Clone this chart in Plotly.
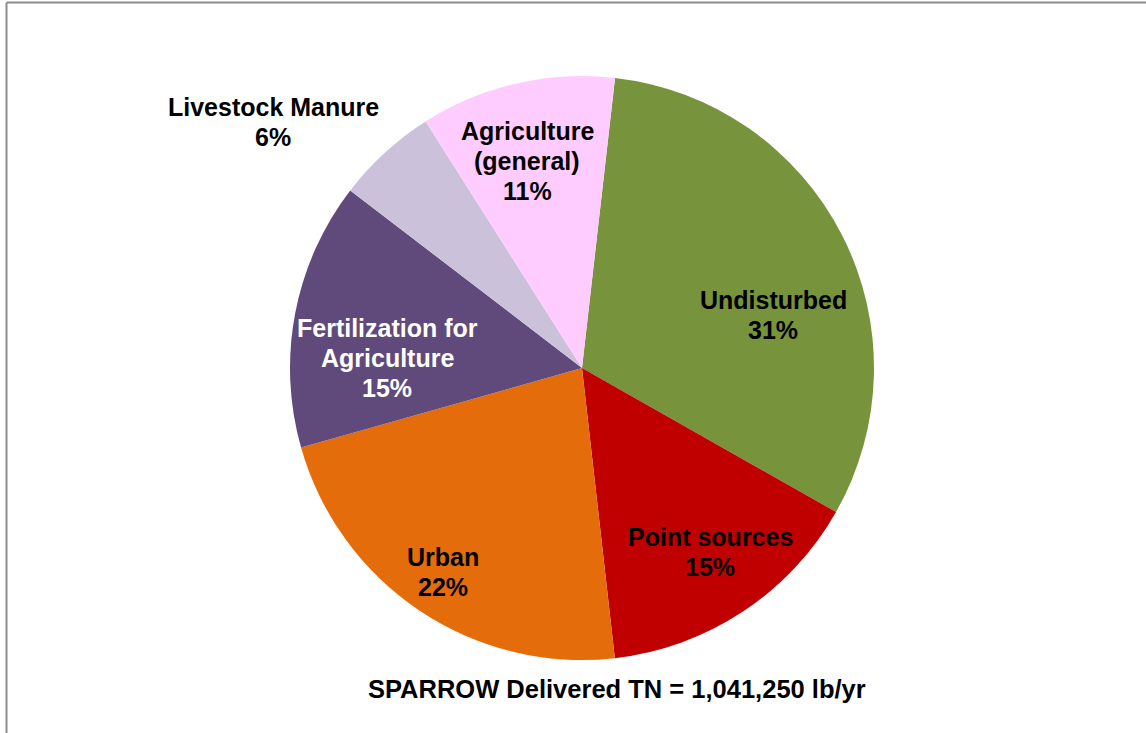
import plotly.graph_objects as go

# Delivered total nitrogen by source (percent of total)
sources = ["Undisturbed", "Point sources", "Urban",
           "Fertilization for|Agriculture", "Livestock Manure",
           "Agriculture|(general)"]
shares = [31.4, 15.0, 22.4, 14.8, 5.6, 10.8]
colors = ["#77933C", "#C00000", "#E46C0A", "#604A7B", "#CCC1DA", "#FFCCFF"]
label_colors = ["black", "black", "black", "white", "black", "black"]
total_label = "SPARROW Delivered TN = 1,041,250 lb/yr"

# Label centres in pixels (x, y from top) for each slice
label_px = [(773, 315), (710, 552), (443, 572), (387, 358), (273, 122), (527, 161)]

W, H = 1146, 733
cx, cy, r = 582, 368, 292
line_gap = 30

fig = go.Figure(go.Pie(
    labels=[s.replace("|", " ") for s in sources],
    values=shares,
    sort=False,
    direction="clockwise",
    rotation=6.5,
    marker=dict(colors=colors, line=dict(width=0)),
    textinfo="none",
    hoverinfo="label+percent",
    showlegend=False,
    domain=dict(x=[(cx - r) / W, (cx + r) / W],
                y=[(H - cy - r) / H, (H - cy + r) / H]),
))

font_family = "Liberation Sans, Arial, sans-serif"
annotations = []
for name, val, (px, py), fc in zip(sources, shares, label_px, label_colors):
    lines = name.split("|") + [f"{round(val)}%"]
    n = len(lines)
    for i, line in enumerate(lines):
        ly = py + (i - (n - 1) / 2) * line_gap
        annotations.append(dict(
            text=f"<b>{line}</b>",
            x=px / W, y=1 - ly / H, xref="paper", yref="paper",
            xanchor="center", yanchor="middle", showarrow=False,
            font=dict(family=font_family, size=25, color=fc),
        ))
annotations.append(dict(
    text=f"<b>{total_label}</b>",
    x=617 / W, y=1 - 689 / H, xref="paper", yref="paper",
    xanchor="center", yanchor="middle", showarrow=False,
    font=dict(family=font_family, size=25.5, color="black"),
))

# Chart frame (left and top edges visible)
shapes = [
    dict(type="line", xref="paper", yref="paper",
         x0=6.5 / W, x1=1.02, y0=1 - 2.5 / H, y1=1 - 2.5 / H,
         line=dict(color="#8C8C8C", width=2)),
    dict(type="line", xref="paper", yref="paper",
         x0=6.5 / W, x1=6.5 / W, y0=1 - 2.5 / H, y1=-0.02,
         line=dict(color="#8C8C8C", width=2)),
]

fig.update_layout(
    width=W, height=H,
    margin=dict(l=0, r=0, t=0, b=0),
    paper_bgcolor="white",
    plot_bgcolor="white",
    annotations=annotations,
    shapes=shapes,
)

fig.write_html("out.html")
